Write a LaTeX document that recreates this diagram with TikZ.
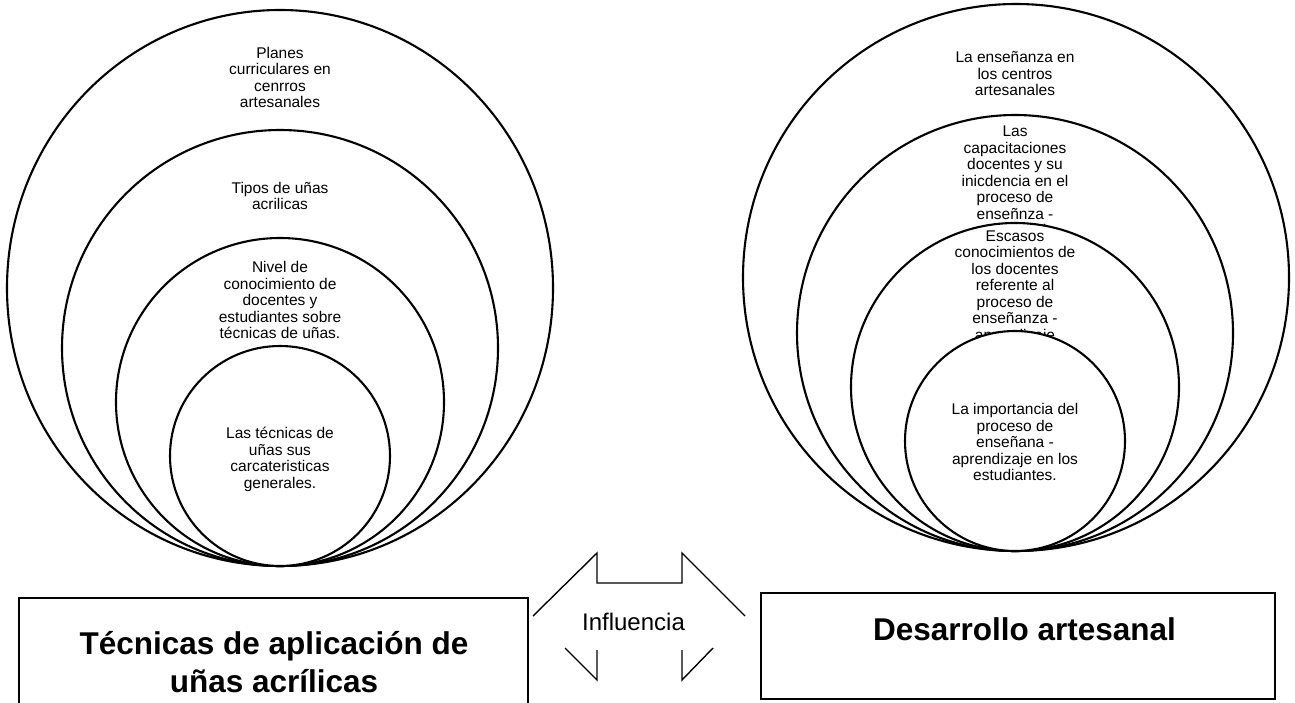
\documentclass[tikz,border=0pt]{standalone}
\usepackage{fontspec}
\setmainfont{Liberation Sans}
\begin{document}
\begin{tikzpicture}[x=1pt,y=-1pt,
	ring/.style={draw=black,fill=white,line width=2.1pt},
	ringtext/.style={align=center,inner sep=0pt,anchor=north,font=\fontsize{15.5}{16.5}\selectfont},
	titlebox/.style={draw=black,line width=2.4pt,inner sep=0pt,anchor=north west},
	titletext/.style={align=center,inner sep=0pt,anchor=north,font=\fontsize{31.5}{38}\selectfont\bfseries},
	arrowline/.style={line width=1.4pt,line join=miter}]
	\useasboundingbox (0,0) rectangle (1295,703);
	\fill[white] (0,0) rectangle (1295,703);

	\draw[ring] (280,288) ellipse [x radius=273, y radius=278];
	\node[ringtext] (cur) at (280,47) {Planes\\curriculares en\\cenrros\\artesanales};
	\draw[ring] (280,348) circle [radius=218];
	\node[ringtext] (tip) at (280,181.7) {Tipos de uñas\\acrilicas};
	\draw[ring] (280,402) circle [radius=164];
	\node[ringtext] (niv) at (280,261.2) {Nivel de\\conocimiento de\\docentes y\\estudiantes sobre\\técnicas de uñas.};
	\draw[ring] (280,456) circle [radius=110];
	\node[ringtext] (tec) at (280,427.2) {Las técnicas de\\uñas sus\\carcateristicas\\generales.};

	\draw[ring] (1016,277.5) ellipse [x radius=273, y radius=273.5];
	\node[ringtext] (ens) at (1015,51.3) {La enseñanza en\\los centros\\artesanales};
	\draw[ring] (1015,333) circle [radius=218];
	\node[ringtext] (cap) at (1015,125.9) {Las\\capacitaciones\\docentes y su\\inicdencia en el\\proceso de\\enseñnza -\\aprendizaje};
	\draw[ring] (1015,387) circle [radius=164];
	\node[ringtext] (esc) at (1015,230.2) {Escasos\\conocimientos de\\los docentes\\referente al\\proceso de\\enseñanza -\\aprendizaje};
	\draw[ring] (1015,441) circle [radius=110];
	\node[ringtext] (imp) at (1015,403.2) {La importancia del\\proceso de\\enseñana -\\aprendizaje en los\\estudiantes.};

	\node[titlebox,minimum width=509pt,minimum height=140pt] (techbox) at (18,597) {};
	\node[titletext] (techtitle) at (274,631.5) {Técnicas de aplicación de\\uñas acrílicas};
	\node[titlebox,minimum width=514pt,minimum height=106pt] (desbox) at (760,592) {};
	\node[titletext] (destitle) at (1024.5,617) {Desarrollo artesanal};

	\draw[arrowline] (533,616) -- (597,553) -- (597,583) -- (682,583) -- (682,553) -- (745,616);
	\draw[arrowline] (565,648) -- (597,680) -- (597,650);
	\draw[arrowline] (713,648) -- (682,680) -- (682,650);
	\node[inner sep=0pt,anchor=base,font=\fontsize{24}{28}\selectfont] (influ) at (633.5,630.3) {Influencia};
\end{tikzpicture}
\end{document}
